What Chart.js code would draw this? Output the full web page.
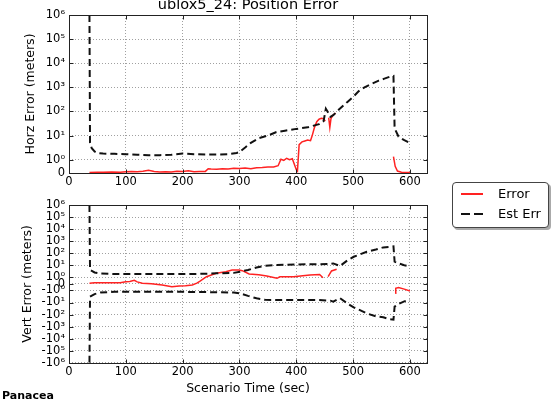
<!DOCTYPE html>
<html>
<head>
<meta charset="utf-8">
<script src="https://cdn.jsdelivr.net/npm/chart.js@4.4.1/dist/chart.umd.min.js"></script>
<style>
  body { margin: 0; background: #fff; }
  #wrap { position: relative; width: 559px; height: 400px; overflow: hidden; font-family: "DejaVu Sans", sans-serif; color: #000; }
  canvas { position: absolute; left: 0; }
  #horz { top: 0; }
  #vert { top: 190px; }
  #legend { position: absolute; left: 452px; top: 182px; width: 95px; height: 44px; border: 1px solid #444; border-radius: 4px; background: #fff; box-shadow: 2px 2px 0 #aaa; }
  #legend .row { position: absolute; left: 0; width: 95px; height: 13px; font-size: 13px; line-height: 13px; }
  #legend .key { position: absolute; left: 8px; width: 22px; }
  #legend .err { top: 6px; height: 1.5px; background: #f22; }
  #legend .est { top: 6px; height: 2px; background: repeating-linear-gradient(to right, #111 0 9px, transparent 9px 13px); }
  #legend .lab { position: absolute; left: 45px; top: 0; }
  #brand { position: absolute; left: 2px; top: 390px; font-size: 11px; line-height: 11px; font-weight: bold; }
</style>
</head>
<body>
<div id="wrap">
  <canvas id="horz" width="559" height="190"></canvas>
  <canvas id="vert" width="559" height="210"></canvas>
  <div id="legend">
    <div class="row" style="top:4px"><span class="key err"></span><span class="lab">Error</span></div>
    <div class="row" style="top:24px"><span class="key est"></span><span class="lab">Est Err</span></div>
  </div>
  <div id="brand">Panacea</div>
</div>
<script>
// horizontal position error (m) and its estimate
const horzErrTime = [36, 50, 60, 75, 90, 100, 110, 120, 130, 140, 150, 160, 170, 180, 190, 200, 210, 220, 230, 240,
  245, 250, 260, 270, 280, 290, 300, 310, 320, 330, 340, 350, 360, 368, 373, 378, 383, 388, 393, 397,
  400, 402, 405, 410, 415, 420, 425, 428, 432, 436, 440, 444, 448, 451, 454, 457, 459, 461, 464, 469,
  520, 571, 574, 578, 585, 592, 600];
const horzErr = [0.04, 0.06, 0.05, 0.07, 0.06, 0.1, 0.12, 0.09, 0.14, 0.2, 0.12, 0.08, 0.1, 0.08, 0.14, 0.12, 0.16, 0.1, 0.12, 0.12,
  0.32, 0.3, 0.28, 0.32, 0.3, 0.35, 0.34, 0.38, 0.33, 0.4, 0.42, 0.45, 0.45, 0.55, 1.05, 0.95, 1.15, 1.0, 1.1, 0.6,
  0.25, 0.15, 4.2, 5.5, 6, 6.5, 6.2, 10, 22, 38, 48, 52, 50, 40, null, 55, 22, 50, 68, 85,
  null, 1.35, 0.5, 0.15, 0.06, 0.04, 0.04];

const horzEstTime = [36, 37, 40, 45, 50, 60, 80, 100, 120, 140, 160, 180, 200, 220, 240, 260, 280, 295, 300, 310,
  320, 335, 350, 365, 380, 400, 420, 440, 448, 452, 456, 460, 465, 475, 490, 500, 510, 520, 530, 545,
  555, 565, 571, 573, 580, 590, 600];
const horzEst = [1e6, 5, 3, 2.2, 1.9, 1.8, 1.75, 1.7, 1.6, 1.55, 1.55, 1.6, 1.8, 1.7, 1.65, 1.65, 1.7, 1.9, 2.1, 3.2,
  5, 8, 10, 14, 16, 19, 22, 30, 40, 130, 90, 60, 70, 120, 250, 400, 700, 1000, 1300, 1900,
  2300, 2800, 3000, 20, 9, 6.5, 5];

// vertical position error (m) and its +/- estimate
const vertErrTime = [36, 45, 55, 70, 90, 100, 107, 115, 120, 129, 145, 164, 181, 194, 205, 217, 225, 230, 242, 259,
  276, 287, 299, 305, 317, 334, 348, 366, 371, 395, 424, 441, 447, 452, 456, 462, 471, 520, 574, 575,
  580, 590, 600];
const vertErr = [0.1, 0.15, 0.17, 0.17, 0.15, 0.3, 0.36, 0.53, 0.3, 0.1, 0.0, -0.17, -0.43, -0.33, -0.3, -0.17, 0.1, 0.36, 1.1, 2.1,
  2.9, 4, 4, 3.5, 1.85, 1.6, 1.25, 0.84, 1.1, 1.1, 1.5, 1.7, 0.92, null, 1.1, 3.3, 4.6, null, -1.7, -0.67,
  -0.55, -0.8, -1.1];

const vertEstTime = [36, 37, 45, 55, 80, 120, 160, 200, 230, 260, 290, 301, 315, 330, 345, 366, 400, 440, 460, 465,
  477, 490, 501, 524, 540, 553, 565, 571, 573, 580, 590, 600];
const vertEstUp = [1e6, 4, 2.5, 2.1, 1.85, 1.85, 1.85, 1.85, 1.9, 2.1, 2.3, 2.9, 4, 6.5, 9, 10.3, 11.5, 12, 12.5, 14,
  8.5, 25, 50, 130, 200, 300, 340, 370, 20, 14, 10, 8];
const vertEstDown = [-1e6, -3.3, -2, -1.5, -1.3, -1.3, -1.3, -1.3, -1.35, -1.4, -1.5, -1.7, -2.8, -4.5, -6, -6.2, -6.2, -6.2, -7, -8.5,
  -4.4, -12, -25, -80, -140, -170, -250, -270, -22, -13, -8, -6.2];

const timeTicks = [0, 100, 200, 300, 400, 500, 600];
const horzTicks = [0, 1, 10, 100, 1e3, 1e4, 1e5, 1e6];
const horzTickLabels = ['0', '10⁰', '10¹', '10²', '10³', '10⁴', '10⁵', '10⁶'];
const vertTicks = [-1e6, -1e5, -1e4, -1e3, -100, -10, -1, 0, 1, 10, 100, 1e3, 1e4, 1e5, 1e6];
const vertTickLabels = ['-10⁶', '-10⁵', '-10⁴', '-10³', '-10²', '-10¹', '-10⁰', '0',
  '10⁰', '10¹', '10²', '10³', '10⁴', '10⁵', '10⁶'];

// symmetric log: linear inside [-1, 1], log10 outside
const LIN = 0.55;
function symlog(v) {
  const a = Math.abs(v);
  const t = a <= 1 ? a * LIN : LIN + Math.log10(a);
  return v < 0 ? -t : t;
}
function symexp(t) {
  const a = Math.abs(t);
  const v = a <= LIN ? a / LIN : Math.pow(10, a - LIN);
  return t < 0 ? -v : v;
}

class SymlogScale extends Chart.Scale {
  determineDataLimits() {
    this.min = this.options.min;
    this.max = this.options.max;
  }
  buildTicks() {
    return this.options.tickValues.map(v => ({ value: v }));
  }
  configure() {
    super.configure();
    this._lo = symlog(this.min);
    this._span = symlog(this.max) - this._lo;
  }
  getLabelForValue(v) {
    return String(v);
  }
  getPixelForValue(v) {
    if (v === null || isNaN(v)) return NaN;
    return this.getPixelForDecimal((symlog(v) - this._lo) / this._span);
  }
  getValueForPixel(p) {
    return symexp(this._lo + this.getDecimalForPixel(p) * this._span);
  }
}
SymlogScale.id = 'symlog';
SymlogScale.defaults = {};
Chart.register(SymlogScale);

// box round the plot with inward tick marks on all four sides
const frame = {
  id: 'frame',
  afterDraw(chart) {
    const { ctx, chartArea: a, scales } = chart;
    const L = Math.round(a.left) + 0.5, R = Math.round(a.right) + 0.5;
    const T = Math.round(a.top) + 0.5, B = Math.round(a.bottom) + 0.5;
    ctx.save();
    ctx.strokeStyle = '#222';
    ctx.lineWidth = 1;
    ctx.beginPath();
    scales.x.ticks.forEach(t => {
      const px = Math.round(scales.x.getPixelForValue(t.value)) + 0.5;
      ctx.moveTo(px, B); ctx.lineTo(px, B - 4);
      ctx.moveTo(px, T); ctx.lineTo(px, T + 4);
    });
    scales.y.ticks.forEach(t => {
      const py = Math.round(scales.y.getPixelForValue(t.value)) + 0.5;
      ctx.moveTo(L, py); ctx.lineTo(L + 4, py);
      ctx.moveTo(R, py); ctx.lineTo(R - 4, py);
    });
    ctx.stroke();
    ctx.strokeRect(L, T, R - L, B - T);
    ctx.restore();
  }
};

Chart.defaults.font.family = '"DejaVu Sans", sans-serif';
Chart.defaults.color = '#000';

const pts = (xs, ys) => xs.map((x, i) => ({ x, y: ys[i] }));
const estLine = data => ({ data, borderColor: '#111', borderWidth: 2, borderDash: [7, 4], pointRadius: 0, tension: 0 });
const errLine = data => ({ data, borderColor: '#f22', borderWidth: 1.5, pointRadius: 0, tension: 0 });
const gridStyle = { color: '#a0a0a0', lineWidth: 1, drawTicks: false };
const gridDash = { display: false, dash: [1, 2] };

function panel(canvasId, datasets, y, x, extra) {
  return new Chart(document.getElementById(canvasId), {
    type: 'line',
    data: { datasets },
    options: {
      responsive: false,
      animation: false,
      events: [],
      devicePixelRatio: 1,
      spanGaps: false,
      layout: { padding: { left: 0, right: 132, top: extra.padTop, bottom: 0 } },
      plugins: {
        legend: { display: false },
        tooltip: { enabled: false },
        title: extra.title
      },
      scales: {
        x: {
          type: 'linear',
          min: 0,
          max: 630,
          afterBuildTicks: s => { s.ticks = timeTicks.map(v => ({ value: v })); },
          afterFit: s => { s.height = x.height; },
          grid: gridStyle,
          border: gridDash,
          ticks: { font: { size: 11.5 }, padding: 2.5, maxRotation: 0 },
          title: x.title
        },
        y: {
          type: 'symlog',
          min: y.ticks[0],
          max: y.ticks[y.ticks.length - 1],
          tickValues: y.ticks,
          afterFit: s => { s.width = 69; },
          grid: gridStyle,
          border: gridDash,
          ticks: { font: { size: 11.5 }, padding: 4, autoSkip: false, callback: (v, i) => y.labels[i] },
          title: { display: true, text: y.name, font: { size: 12.5 }, padding: { top: y.titlePad, bottom: 0 } }
        }
      }
    },
    plugins: [frame]
  });
}

panel('horz',
  [estLine(pts(horzEstTime, horzEst)), errLine(pts(horzErrTime, horzErr))],
  { ticks: horzTicks, labels: horzTickLabels, name: 'Horz Error (meters)', titlePad: 23.5 },
  { height: 17, title: { display: false } },
  {
    padTop: 0,
    title: { display: true, text: 'ublox5_24: Position Error', fullSize: false,
      font: { size: 14.5, weight: 'normal', lineHeight: 1 }, padding: { top: -2.25, bottom: 2.75 } }
  });

panel('vert',
  [estLine(pts(vertEstTime, vertEstUp)), estLine(pts(vertEstTime, vertEstDown)), errLine(pts(vertErrTime, vertErr))],
  { ticks: vertTicks, labels: vertTickLabels, name: 'Vert Error (meters)', titlePad: 20.5 },
  { height: 37.3, title: { display: true, text: 'Scenario Time (sec)', font: { size: 12.5 }, padding: { top: 0, bottom: 3.5 } } },
  { padTop: 15, title: { display: false } });
</script>
</body>
</html>
